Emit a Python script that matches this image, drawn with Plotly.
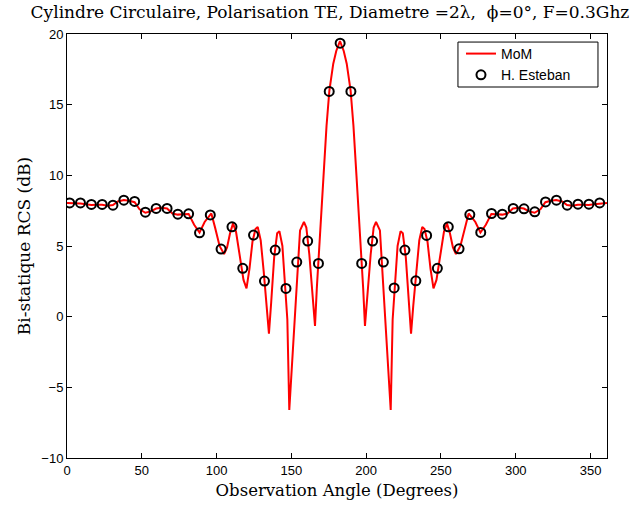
import plotly.graph_objects as go

# MoM curve (angle in degrees, RCS in dB)
mom_angle = [0, 1.8, 5, 9, 12.5, 16.3, 20, 23.5, 27, 30.7, 34, 38, 41.5, 45.2, 48.5, 52.4, 56, 59.6, 63, 66.9,
             70.5, 74.1, 78, 81.3, 85, 88.6, 92, 96.5,
             99, 102, 105, 107, 109, 111, 113, 115.5, 118, 120, 122, 124, 126, 127.5, 129.5, 131.5, 133.5, 135,
             136.5, 138.5, 140.5, 142, 144, 145.7, 147.3, 148.6, 150, 151.3, 153.5, 155.8, 158.4, 160, 162, 164,
             165.8, 167, 168.5, 170, 171.5, 173.5, 175.4, 178, 180, 182.5, 185, 187, 189.6, 191.5, 193.5, 195,
             196.5, 198, 199.2, 201, 203, 205, 206.6, 209.2, 211.5, 213.7, 215, 216.4, 217.7, 219.3, 221,
             223, 224.5, 226.5, 228.5, 230, 231.5, 233.5, 235.5, 237.5, 239, 241, 243, 245, 247, 249.5, 252,
             254, 256, 258, 260, 263, 266, 268.5,
             273, 276.4, 280, 283.7, 287, 290.9, 294.5, 298.1, 302, 305.4, 309, 312.6, 316.5, 319.8, 323.5,
             327, 331, 334.3, 338, 341.5, 345, 348.7, 352.5, 356, 360, 361]
mom_db = [8.05, 8.05, 8.0, 8.0, 7.95, 7.9, 7.92, 7.92, 7.85, 7.9, 8.15, 8.25, 8.2, 8.1, 7.6, 7.35, 7.45, 7.65, 7.7, 7.65,
          7.3, 7.22, 7.25, 7.27, 6.5, 5.95, 6.7, 7.3,
          6.3, 5.0, 4.43, 4.9, 5.9, 6.6, 6.0, 4.3, 2.6, 2.0, 3.4, 5.3, 6.2, 6.35, 5.4, 3.2, 0.8, -1.2,
          1.0, 4.2, 5.9, 6.05, 5.0, 2.0, -0.2, -6.6, -4.0, -2.1, 1.9, 6.1, 6.7, 6.3, 4.4, 1.8,
          -0.65, 2.0, 4.8, 7.5, 10.0, 13.5, 16.0, 17.9, 18.8, 19.5, 18.8, 17.9, 16.0, 13.5, 10.0, 7.5,
          4.8, 2.0, -0.65, 1.8, 4.4, 6.3, 6.7, 6.1, 1.9, -2.1, -4.0, -6.6, -0.2, 2.0, 5.0,
          6.05, 5.9, 4.2, 1.0, -1.2, 0.8, 3.2, 5.4, 6.35, 6.2, 5.3, 3.4, 2.0, 2.6, 4.3, 6.0,
          6.6, 5.9, 4.9, 4.43, 5.0, 6.3, 7.3,
          6.7, 5.95, 6.5, 7.27, 7.25, 7.22, 7.3, 7.65, 7.7, 7.65, 7.45, 7.35, 7.6, 8.1, 8.2,
          8.25, 8.15, 7.9, 7.85, 7.92, 7.92, 7.9, 7.95, 8.0, 8.05, 8.05]

# H. Esteban reference points
est_angle = [1.8, 9.0, 16.3, 23.5, 30.7, 38.0, 45.2, 52.4, 59.6, 66.9, 74.1, 81.3, 88.6, 95.8, 103.0, 110.3,
             117.5, 124.7, 132.0, 139.2, 146.4, 153.6, 160.9, 168.1, 175.3, 182.6, 189.8, 197.0, 204.3, 211.5,
             218.7, 225.9, 233.2, 240.4, 247.6, 254.9, 262.1, 269.3, 276.6, 283.8, 291.0, 298.3, 305.5, 312.7,
             319.9, 327.2, 334.4, 341.6, 348.9, 356.1]
est_db = [8.05, 8.05, 7.94, 7.94, 7.89, 8.24, 8.15, 7.39, 7.66, 7.66, 7.25, 7.28, 5.93, 7.2, 4.78, 6.36,
          3.42, 5.77, 2.52, 4.71, 2.0, 3.86, 5.35, 3.77, 15.94, 19.35, 15.94, 3.77, 5.35, 3.86,
          2.03, 4.71, 2.54, 5.75, 3.42, 6.36, 4.80, 7.22, 5.96, 7.30, 7.25, 7.66, 7.63, 7.42,
          8.12, 8.24, 7.89, 7.96, 7.96, 8.05]

x_ticks = [0, 50, 100, 150, 200, 250, 300, 350]
y_ticks = [-10, -5, 0, 5, 10, 15, 20]

fig = go.Figure()
fig.add_trace(go.Scatter(x=mom_angle, y=mom_db, mode="lines", name="MoM",
                         line=dict(color="#ff0000", width=2)))
fig.add_trace(go.Scatter(x=est_angle, y=est_db, mode="markers", name="H. Esteban",
                         marker=dict(symbol="circle-open", size=9, color="black",
                                     line=dict(color="black", width=2))))

axis_common = dict(showgrid=False, zeroline=False, showline=True, linecolor="black", linewidth=1,
                   mirror="ticks", ticks="inside", ticklen=5, tickcolor="black",
                   tickfont=dict(family="Liberation Sans", size=13, color="black"))

serif = "DejaVu Serif"

# legend frame (drawn as a shape so its size matches the reference)
fig.add_shape(type="rect", xref="paper", yref="paper", x0=0.724, x1=0.9833, y0=0.875, y1=0.981,
              line=dict(color="black", width=1), fillcolor="white", layer="above")

fig.update_layout(
    width=631, height=511,
    margin=dict(l=67, r=24, t=34, b=53),
    paper_bgcolor="white", plot_bgcolor="white",
    title=dict(text="Cylindre Circulaire, Polarisation TE, Diametre =2λ,  ϕ=0°, F=0.3Ghz",
               font=dict(family=serif, size=17, color="black"),
               x=0.487, xanchor="center", xref="paper", y=1 - 12 / 511, yanchor="middle", yref="container"),
    xaxis=dict(range=[0, 361], tickvals=x_ticks,
               title=dict(text="Observation Angle (Degrees)", standoff=7,
                          font=dict(family=serif, size=16.5, color="black")),
               **axis_common),
    yaxis=dict(range=[-10, 20], tickvals=y_ticks,
               title=dict(text="Bi-statique RCS (dB)", standoff=6,
                          font=dict(family=serif, size=17, color="black")),
               **axis_common),
    legend=dict(x=0.7296, xanchor="left", y=0.9906, yanchor="top",
                bgcolor="rgba(0,0,0,0)", borderwidth=0,
                font=dict(family="Liberation Sans", size=14, color="black"),
                itemwidth=30, tracegroupgap=0),
    showlegend=True,
)

fig.write_html("out.html")
